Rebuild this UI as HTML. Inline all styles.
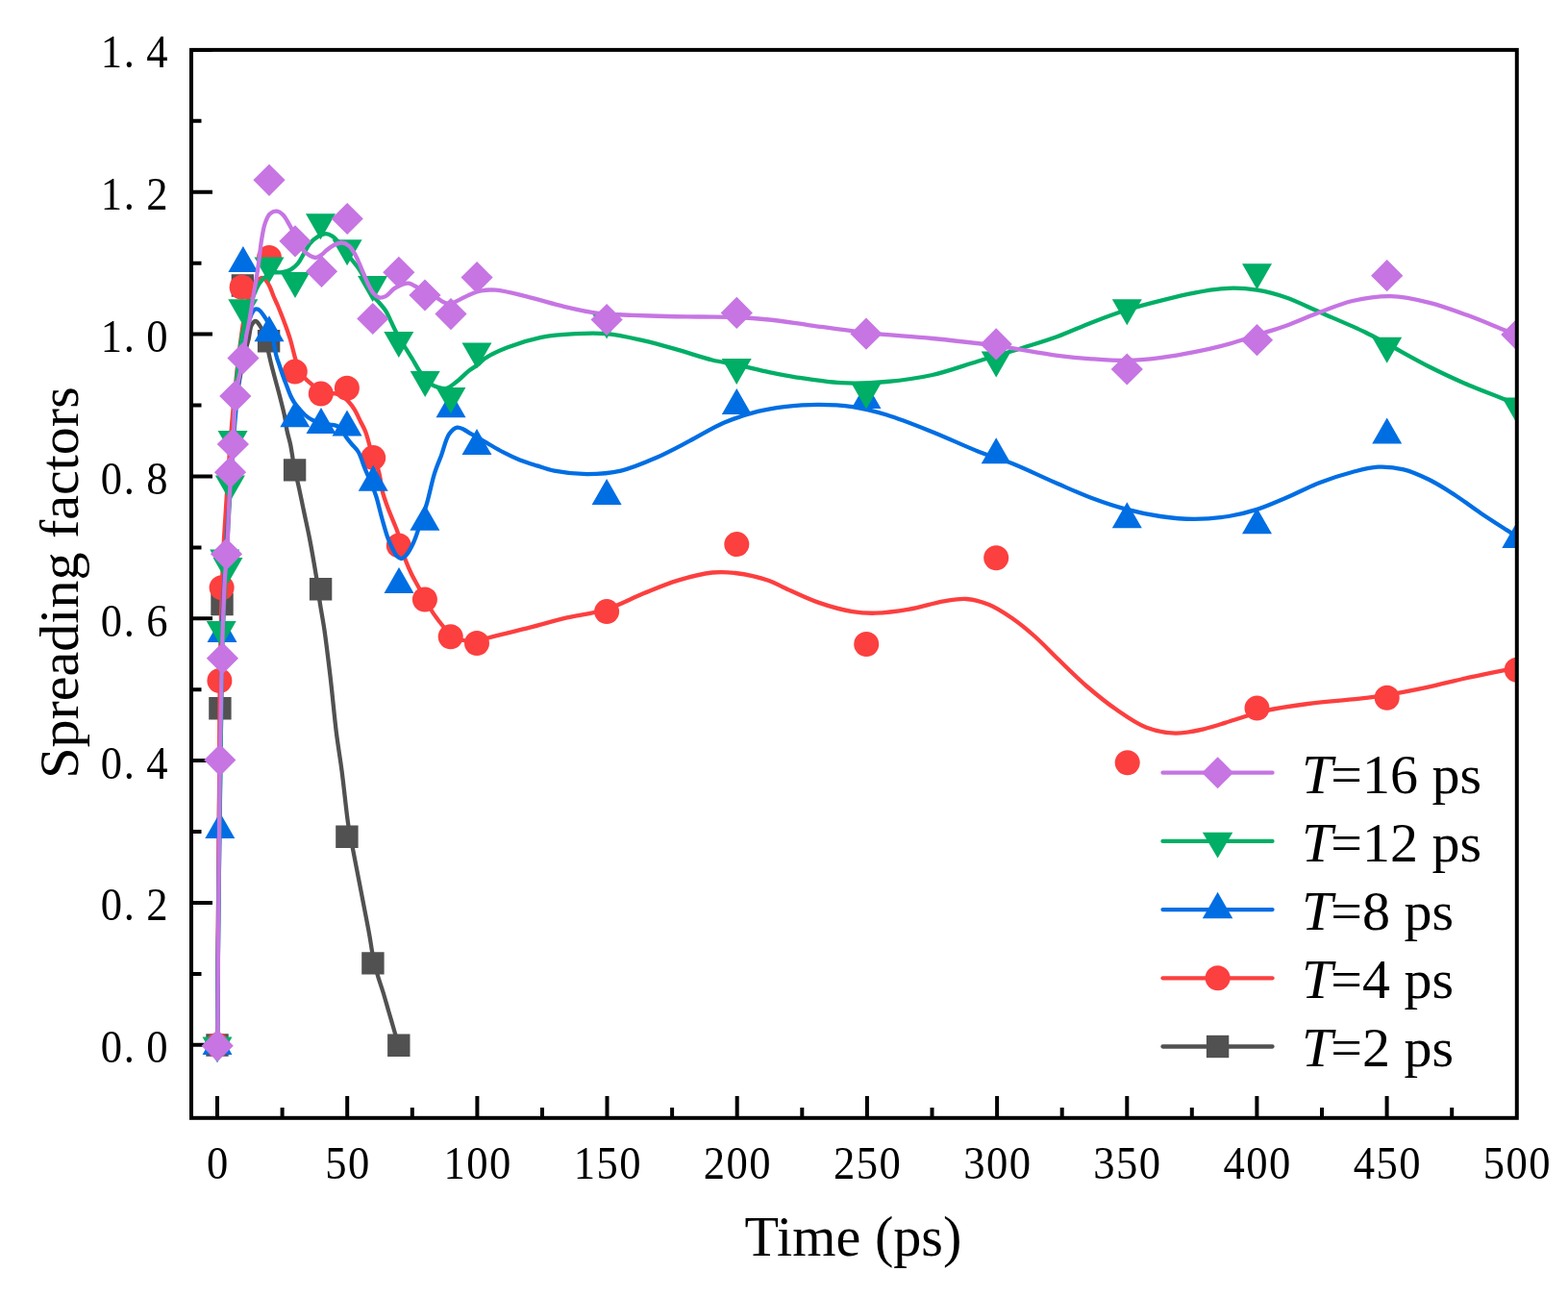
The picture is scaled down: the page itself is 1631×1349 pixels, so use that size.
<!DOCTYPE html><html><head><meta charset="utf-8"><title>Spreading factors</title>
<style>html,body{margin:0;padding:0;background:#fff;}body{width:1631px;height:1349px;overflow:hidden;}svg{display:block;}text{font-family:"Liberation Serif",serif;fill:#000;}</style></head><body>
<svg width="1631" height="1349" viewBox="0 0 1631 1349">
<rect width="1631" height="1349" fill="#fff"/>
<defs><clipPath id="pa"><rect x="199.0" y="51.9" width="1378.8" height="1110.9"/></clipPath></defs>
<path d="M199.0,1086.8h22.0M199.0,1012.9h10.5M199.0,939.0h22.0M199.0,865.0h10.5M199.0,791.1h22.0M199.0,717.2h10.5M199.0,643.3h22.0M199.0,569.4h10.5M199.0,495.4h22.0M199.0,421.5h10.5M199.0,347.6h22.0M199.0,273.7h10.5M199.0,199.8h22.0M199.0,125.8h10.5M199.0,51.9h22.0M226.0,1162.8v-22.8M293.6,1162.8v-10.8M361.2,1162.8v-22.8M428.8,1162.8v-10.8M496.4,1162.8v-22.8M564.0,1162.8v-10.8M631.5,1162.8v-22.8M699.1,1162.8v-10.8M766.7,1162.8v-22.8M834.3,1162.8v-10.8M901.9,1162.8v-22.8M969.5,1162.8v-10.8M1037.1,1162.8v-22.8M1104.7,1162.8v-10.8M1172.3,1162.8v-22.8M1239.8,1162.8v-10.8M1307.4,1162.8v-22.8M1375.0,1162.8v-10.8M1442.6,1162.8v-22.8M1510.2,1162.8v-10.8" stroke="#000" stroke-width="4" fill="none"/>
<g clip-path="url(#pa)" stroke-linejoin="round" stroke-linecap="round">
<path d="M226.0,1087.0 C226.3,1041.3 226.6,995.1 227.0,950.0 C227.4,906.1 227.8,858.5 228.2,820.0 C228.5,789.2 228.6,762.1 229.0,737.0 C229.3,716.2 229.9,698.5 230.2,680.0 C230.5,662.5 230.5,646.6 231.0,629.0 C231.6,610.0 232.5,589.7 233.5,570.0 C234.5,550.1 235.7,529.1 237.0,510.0 C238.2,492.6 239.5,476.2 241.0,460.0 C242.5,444.6 244.1,428.5 246.0,415.0 C247.5,404.0 249.3,393.8 251.0,385.0 C252.3,377.9 253.6,371.8 255.0,366.0 C256.2,361.2 257.5,357.2 258.6,352.7 C259.7,348.0 259.9,341.4 261.7,338.2 C262.8,336.2 264.5,334.0 265.9,334.0 C267.3,334.0 268.8,336.6 270.0,338.2 C271.3,340.0 272.2,342.2 273.2,344.4 C274.2,346.8 275.2,349.3 276.0,352.0 C276.9,355.1 277.4,358.3 278.3,362.0 C279.4,366.7 280.7,372.8 281.9,377.8 C283.0,382.5 284.2,386.7 285.4,391.2 C286.6,395.6 287.8,400.0 289.0,404.5 C290.2,409.0 291.3,413.4 292.5,418.0 C293.7,422.9 295.1,428.0 296.1,433.0 C297.1,437.9 297.5,442.9 298.5,447.8 C299.5,452.8 301.2,457.9 302.2,462.7 C303.1,467.2 303.7,471.5 304.4,475.9 C305.1,480.3 305.7,484.6 306.6,489.0 C307.5,493.6 308.8,497.6 310.0,503.0 C311.7,510.5 313.8,520.8 315.7,530.0 C317.7,539.7 319.9,549.2 322.0,560.0 C324.4,572.4 327.5,590.6 329.1,600.3 C330.0,605.7 330.4,608.7 331.0,613.0 C331.6,617.4 331.9,621.1 332.7,626.4 C333.8,634.1 335.8,644.2 337.4,654.9 C339.4,668.7 341.4,685.6 343.4,702.3 C345.6,720.9 347.6,743.5 349.8,761.5 C351.7,776.6 353.8,788.2 355.7,803.0 C357.9,820.0 360.5,846.3 362.3,858.0 C363.1,863.5 363.8,866.1 364.5,870.0 C365.2,873.8 365.8,876.6 366.7,881.3 C368.2,889.3 370.8,902.7 372.9,913.4 C375.0,924.1 377.1,935.0 379.1,945.4 C381.0,955.1 383.1,965.7 384.5,973.8 C385.6,979.9 386.2,984.9 387.1,989.8 C387.9,994.0 388.8,997.6 389.7,1001.5 C390.6,1005.4 391.3,1008.9 392.5,1013.3 C394.0,1018.8 396.6,1025.6 398.5,1032.0 C400.5,1038.5 402.3,1045.1 404.3,1052.0 C406.5,1059.4 409.1,1068.6 411.0,1075.0 C412.4,1079.6 413.4,1083.0 414.6,1087.0" fill="none" stroke="#515151" stroke-width="4.3"/>
<path d="M214.3,1075.3h23.4v23.4h-23.4ZM217.2,725.1h23.4v23.4h-23.4ZM219.3,616.8h23.4v23.4h-23.4ZM240.7,285.3h23.4v23.4h-23.4ZM267.9,343.1h23.4v23.4h-23.4ZM294.9,477.2h23.4v23.4h-23.4ZM321.9,601.0h23.4v23.4h-23.4ZM349.2,858.5h23.4v23.4h-23.4ZM376.2,990.2h23.4v23.4h-23.4ZM403.1,1075.5h23.4v23.4h-23.4Z" fill="#515151"/>
<path d="M226.0,1087.0 C226.3,1041.3 226.6,996.7 227.0,950.0 C227.4,901.1 227.9,843.9 228.2,800.0 C228.4,765.6 228.3,733.7 228.6,708.0 C228.8,689.4 229.2,676.1 229.6,660.0 C230.0,643.8 230.3,626.6 230.8,611.0 C231.3,596.7 231.9,582.6 232.5,570.0 C233.0,559.2 233.6,550.7 234.3,540.0 C235.1,527.6 235.9,513.7 236.8,500.0 C237.8,485.4 238.8,470.0 240.0,455.0 C241.2,440.0 242.5,425.0 244.0,410.0 C245.5,395.0 247.2,379.0 249.0,365.0 C250.6,352.6 252.1,340.3 254.0,330.0 C255.5,321.8 257.0,314.2 259.0,308.0 C260.5,303.3 262.0,299.1 264.0,296.0 C265.5,293.7 267.3,291.7 269.0,290.5 C270.4,289.6 271.9,288.8 273.2,289.0 C274.7,289.3 276.1,291.0 277.3,292.5 C278.7,294.2 279.9,296.6 281.0,299.0 C282.3,301.7 283.2,304.9 284.5,308.0 C285.9,311.3 287.5,314.6 289.0,318.0 C290.5,321.6 291.9,325.2 293.4,329.0 C294.9,332.9 296.4,336.8 297.9,341.0 C299.5,345.5 301.1,350.1 302.5,355.0 C304.0,360.3 305.4,366.7 306.8,371.6 C307.9,375.5 308.7,378.8 310.0,382.0 C311.3,385.0 312.6,387.9 314.5,390.5 C316.4,393.1 319.3,395.4 321.5,397.4 C323.4,399.1 325.0,400.5 327.0,402.0 C329.2,403.7 331.6,405.9 334.0,407.0 C336.2,408.0 338.6,408.4 341.0,408.8 C343.6,409.2 346.5,408.7 349.0,409.3 C351.5,409.8 353.8,410.7 356.0,412.0 C358.5,413.5 360.9,415.9 363.0,418.2 C365.2,420.6 367.1,423.2 369.0,426.3 C371.1,429.8 373.0,434.4 374.9,438.2 C376.7,441.8 378.4,444.4 380.0,448.6 C382.3,454.4 384.1,463.0 386.4,470.0 C388.7,476.8 392.0,483.2 393.9,490.1 C395.9,497.1 396.3,505.3 398.0,511.9 C399.5,517.6 401.3,522.3 403.2,527.5 C405.1,532.7 407.6,538.4 409.5,543.1 C411.0,546.9 412.4,549.7 413.6,553.5 C415.0,557.9 415.7,563.3 417.0,568.0 C418.3,572.7 419.8,577.0 421.5,581.7 C423.4,586.7 425.6,592.0 428.0,597.0 C430.4,601.9 433.3,606.7 435.7,611.3 C437.9,615.5 439.5,619.3 441.9,623.5 C444.6,628.3 447.8,633.6 451.2,638.6 C454.8,643.8 459.7,650.0 463.0,654.0 C465.2,656.7 466.1,658.7 468.7,660.5 C472.0,662.9 477.4,664.9 482.0,666.0 C486.5,667.1 491.5,667.5 496.0,667.0 C500.3,666.5 503.1,664.8 508.5,663.3 C518.5,660.6 537.6,656.2 551.2,652.7 C563.6,649.5 574.2,646.2 586.7,643.2 C600.6,639.8 617.0,638.2 631.1,633.7 C644.7,629.4 657.1,622.2 669.8,617.1 C681.8,612.2 693.3,607.2 705.3,603.6 C717.0,600.1 730.2,596.6 740.9,595.5 C749.5,594.6 756.0,594.9 764.6,596.0 C775.3,597.3 790.7,600.8 800.0,604.0 C806.4,606.2 809.3,608.4 815.6,611.2 C825.0,615.4 839.2,622.4 851.2,626.6 C862.9,630.7 876.0,634.3 886.7,636.1 C895.3,637.5 901.8,637.9 910.5,637.7 C921.2,637.5 934.2,635.7 946.0,633.7 C957.9,631.6 970.9,627.2 981.6,625.4 C990.3,624.0 997.5,622.4 1005.3,623.0 C1013.3,623.6 1021.3,625.8 1029.0,629.0 C1037.2,632.4 1045.1,637.7 1052.8,643.0 C1060.9,648.6 1068.8,655.2 1076.5,662.0 C1084.5,669.1 1091.6,676.9 1100.0,685.0 C1109.5,694.1 1120.3,705.0 1130.7,714.0 C1140.7,722.6 1150.9,730.9 1161.3,738.1 C1171.3,745.0 1181.4,752.4 1192.0,756.5 C1201.9,760.3 1212.4,762.4 1222.6,762.6 C1232.8,762.8 1243.2,760.3 1253.3,758.0 C1263.6,755.7 1273.7,751.9 1283.9,748.8 C1294.1,745.7 1303.2,742.2 1314.6,739.6 C1328.3,736.4 1345.2,734.0 1360.6,732.0 C1375.9,730.0 1392.2,729.0 1406.6,727.4 C1419.4,725.9 1430.4,724.8 1442.7,722.8 C1455.8,720.7 1469.3,718.0 1483.2,715.1 C1498.1,712.0 1513.6,707.8 1529.2,704.4 C1545.2,700.9 1567.0,696.7 1577.8,694.5 C1583.2,693.4 1585.9,692.8 1590.0,692.0" fill="none" stroke="#FC3F3F" stroke-width="4.3"/>
<g fill="#FC3F3F"><circle cx="226.0" cy="1087.0" r="13.0"/><circle cx="228.4" cy="708.0" r="13.0"/><circle cx="230.6" cy="611.2" r="13.0"/><circle cx="251.6" cy="298.7" r="13.0"/><circle cx="280.0" cy="268.0" r="13.0"/><circle cx="306.8" cy="386.6" r="13.0"/><circle cx="333.8" cy="409.6" r="13.0"/><circle cx="360.9" cy="403.7" r="13.0"/><circle cx="388.2" cy="476.1" r="13.0"/><circle cx="414.8" cy="567.4" r="13.0"/><circle cx="441.9" cy="623.5" r="13.0"/><circle cx="468.7" cy="662.3" r="13.0"/><circle cx="496.0" cy="669.0" r="13.0"/><circle cx="631.1" cy="636.1" r="13.0"/><circle cx="766.3" cy="566.1" r="13.0"/><circle cx="901.2" cy="670.0" r="13.0"/><circle cx="1036.2" cy="580.3" r="13.0"/><circle cx="1172.7" cy="793.3" r="13.0"/><circle cx="1307.5" cy="736.6" r="13.0"/><circle cx="1442.7" cy="725.8" r="13.0"/><circle cx="1577.8" cy="696.7" r="13.0"/></g>
<path d="M226.0,1087.0 C226.4,1041.3 226.8,990.9 227.3,950.0 C227.7,916.9 228.1,891.5 228.5,860.0 C229.0,825.2 229.6,785.3 230.0,750.0 C230.4,717.2 230.2,682.4 231.0,655.0 C231.6,634.2 232.6,617.9 233.5,600.0 C234.4,582.9 235.4,566.7 236.5,550.0 C237.6,533.3 238.8,516.7 240.0,500.0 C241.2,483.3 242.3,465.7 243.5,450.0 C244.6,435.9 245.7,422.9 247.0,410.0 C248.2,397.9 249.5,385.7 251.0,375.0 C252.2,366.0 253.5,357.1 255.0,350.0 C256.1,344.6 257.2,340.2 258.5,336.0 C259.6,332.4 260.6,328.6 262.0,326.0 C263.0,324.1 264.2,322.0 265.5,321.5 C266.6,321.1 267.8,321.4 269.0,322.0 C270.7,323.0 272.6,325.7 274.2,328.0 C276.1,330.6 277.9,333.6 279.4,337.0 C281.1,340.9 282.3,345.2 283.5,350.0 C285.0,355.9 285.9,364.4 287.4,370.0 C288.5,374.3 289.8,377.3 291.0,381.0 C292.2,384.7 293.5,388.6 294.8,392.2 C296.0,395.6 297.3,398.8 298.5,402.0 C299.7,405.2 300.9,408.6 302.2,411.5 C303.4,414.1 304.7,416.4 306.0,418.5 C307.2,420.3 308.2,421.6 309.7,423.4 C311.7,425.8 314.5,429.2 317.1,431.5 C319.5,433.6 321.9,435.3 324.5,436.7 C326.9,438.0 329.1,438.7 331.9,439.5 C335.2,440.4 339.7,440.9 343.0,441.5 C345.7,442.0 348.3,441.9 350.4,443.0 C352.4,444.0 354.0,445.7 355.5,447.5 C357.2,449.5 358.4,452.2 360.0,454.5 C361.6,456.8 363.3,458.8 365.2,461.2 C367.4,464.0 370.5,466.4 372.7,470.0 C375.4,474.5 377.1,481.5 379.3,486.7 C381.2,491.4 383.1,495.3 385.0,500.0 C387.1,505.1 389.3,510.2 391.2,516.0 C393.4,522.7 394.9,530.7 397.0,538.0 C399.1,545.4 401.4,554.1 403.7,560.3 C405.4,564.9 407.3,568.7 409.0,572.0 C410.3,574.5 411.4,577.0 413.0,578.5 C414.3,579.8 416.0,581.1 417.5,581.0 C419.0,580.9 420.5,579.6 422.0,578.0 C424.5,575.3 427.5,569.9 429.8,565.0 C432.6,559.2 434.7,551.8 437.0,545.0 C439.4,538.0 441.7,531.4 444.0,523.6 C446.7,514.3 449.1,501.7 451.9,492.7 C454.1,485.5 456.5,480.3 459.0,473.7 C461.7,466.5 463.7,456.2 467.3,451.2 C469.7,447.9 472.9,445.1 475.6,444.6 C477.8,444.2 479.8,445.5 482.0,446.5 C484.5,447.6 486.7,449.4 489.8,451.2 C494.3,453.8 500.9,457.5 506.4,460.7 C511.9,463.8 517.3,467.2 523.0,470.1 C528.8,473.1 534.8,476.0 540.8,478.4 C546.7,480.7 552.6,482.5 558.6,484.4 C564.5,486.3 569.4,488.3 576.4,489.7 C585.9,491.6 599.0,493.1 610.5,493.1 C622.2,493.1 634.3,492.3 646.0,489.6 C658.0,486.8 669.9,481.6 681.6,476.5 C693.6,471.3 705.4,464.8 717.2,458.7 C729.1,452.6 740.7,445.0 752.8,439.8 C764.5,434.8 777.2,430.7 788.4,427.9 C798.0,425.5 805.9,424.3 815.6,423.1 C826.6,421.8 839.3,420.8 851.2,420.8 C863.0,420.8 874.9,421.3 886.7,423.1 C898.6,424.9 909.7,427.7 922.3,431.5 C937.1,436.0 954.0,442.9 969.8,449.2 C985.7,455.5 1002.4,463.7 1017.2,469.4 C1029.8,474.3 1040.2,477.0 1052.8,482.0 C1067.5,487.9 1085.3,496.7 1100.0,503.0 C1112.7,508.5 1123.5,513.5 1135.6,518.0 C1147.6,522.5 1160.2,526.7 1172.3,529.9 C1183.9,533.0 1195.1,535.3 1206.7,537.0 C1218.4,538.7 1230.4,539.9 1242.3,539.9 C1254.2,539.9 1266.6,538.8 1277.9,537.0 C1288.3,535.3 1297.7,533.0 1307.5,529.9 C1317.5,526.7 1326.9,522.4 1337.2,518.0 C1348.6,513.2 1361.0,506.6 1372.8,502.0 C1384.1,497.6 1396.0,493.8 1406.7,491.0 C1416.1,488.6 1424.5,486.1 1433.4,485.7 C1442.3,485.3 1451.3,486.2 1460.1,488.3 C1469.2,490.5 1478.1,494.7 1486.8,499.0 C1495.9,503.5 1504.7,509.3 1513.5,515.0 C1522.5,520.8 1531.2,527.7 1540.2,533.7 C1549.1,539.7 1559.9,546.6 1566.9,551.1 C1571.3,553.9 1574.1,555.6 1577.8,558.0 C1581.8,560.6 1585.9,563.3 1590.0,566.0" fill="none" stroke="#006EE3" stroke-width="4.3"/>
<path d="M226.0,1070.1L241.5,1097.1L210.5,1097.1ZM228.8,845.0L244.3,872.0L213.3,872.0ZM231.0,641.0L246.5,668.0L215.5,668.0ZM252.9,256.0L268.4,283.0L237.4,283.0ZM280.0,328.3L295.5,355.3L264.5,355.3ZM306.8,417.2L322.3,444.2L291.3,444.2ZM334.0,424.0L349.5,451.0L318.5,451.0ZM361.0,426.5L376.5,453.5L345.5,453.5ZM388.2,483.8L403.7,510.8L372.7,510.8ZM415.0,590.0L430.5,617.0L399.5,617.0ZM441.9,524.7L457.4,551.7L426.4,551.7ZM469.0,407.2L484.5,434.2L453.5,434.2ZM496.0,446.0L511.5,473.0L480.5,473.0ZM631.1,497.9L646.6,524.9L615.6,524.9ZM766.3,403.9L781.8,430.9L750.8,430.9ZM901.0,398.0L916.5,425.0L885.5,425.0ZM1036.2,455.2L1051.7,482.2L1020.7,482.2ZM1172.3,522.3L1187.8,549.3L1156.8,549.3ZM1307.5,528.3L1323.0,555.3L1292.0,555.3ZM1442.7,434.5L1458.2,461.5L1427.2,461.5ZM1577.8,543.0L1593.3,570.0L1562.3,570.0Z" fill="#006EE3"/>
<path d="M226.0,1087.0 C226.4,1041.3 226.8,992.1 227.3,950.0 C227.7,914.0 228.1,883.3 228.5,850.0 C229.0,816.7 229.5,780.4 230.0,750.0 C230.4,724.6 230.6,701.4 231.2,680.0 C231.7,661.9 232.3,645.7 233.0,630.0 C233.6,615.9 234.3,603.3 235.0,590.0 C235.7,576.7 236.5,563.3 237.2,550.0 C238.0,536.7 238.7,523.3 239.5,510.0 C240.3,496.7 241.2,483.3 242.0,470.0 C242.7,456.7 243.3,443.0 244.0,430.0 C244.7,417.7 245.2,406.2 246.2,394.2 C247.3,382.1 248.7,368.3 250.3,357.9 C251.5,350.0 252.9,343.8 254.5,337.1 C256.0,330.8 257.9,324.6 259.7,319.0 C261.3,314.0 263.0,309.3 264.8,305.0 C266.4,301.2 267.8,297.6 270.0,294.5 C272.0,291.6 274.7,288.9 277.3,287.0 C279.6,285.4 281.9,284.1 284.5,283.5 C287.2,282.8 290.5,283.7 293.4,283.2 C296.4,282.7 299.6,282.0 302.3,280.5 C305.1,279.0 307.6,276.8 309.8,274.2 C312.2,271.3 313.9,267.3 316.0,263.8 C318.1,260.3 319.8,256.4 322.3,253.4 C324.7,250.5 327.7,247.8 330.6,246.1 C333.2,244.5 336.2,243.1 338.9,243.1 C341.4,243.1 343.9,244.5 346.0,245.8 C348.1,247.1 349.7,249.1 351.4,251.1 C353.3,253.3 354.7,255.6 356.7,258.3 C359.3,261.7 362.8,266.2 365.6,269.8 C368.1,273.0 370.6,275.7 372.7,278.7 C374.7,281.6 376.3,284.4 378.0,287.6 C379.9,291.2 381.5,295.6 383.4,299.2 C385.1,302.5 386.7,305.8 388.7,308.5 C390.5,311.0 392.5,312.7 394.5,315.0 C396.7,317.6 399.2,320.2 401.2,323.2 C403.3,326.4 404.7,330.2 406.5,333.9 C408.5,338.0 410.5,342.6 412.7,346.7 C414.9,350.8 417.2,354.4 419.8,358.6 C422.7,363.4 426.4,369.2 429.3,374.0 C431.9,378.2 433.7,382.1 436.4,385.9 C439.2,389.9 442.9,394.8 445.9,397.5 C448.0,399.4 449.4,400.5 451.9,401.5 C455.1,402.8 459.9,404.7 463.7,404.0 C467.8,403.3 471.8,399.4 475.6,396.5 C479.7,393.4 483.5,389.0 487.4,385.9 C491.0,383.1 495.2,380.9 498.1,378.5 C500.3,376.7 501.0,375.2 503.7,373.3 C508.7,369.8 518.5,365.0 527.4,361.5 C537.9,357.3 551.0,353.2 563.0,350.8 C574.8,348.5 587.0,347.8 598.6,347.2 C609.7,346.6 619.8,346.2 631.1,347.2 C643.5,348.3 657.2,351.6 669.8,354.4 C681.9,357.2 693.5,360.6 705.3,363.9 C717.2,367.3 730.0,371.8 740.9,374.5 C750.0,376.7 757.3,377.4 766.3,379.3 C776.8,381.5 789.3,384.9 800.0,387.1 C809.6,389.1 817.0,390.7 827.4,392.3 C841.0,394.4 859.0,397.4 874.9,398.2 C890.7,399.0 906.5,398.4 922.3,397.0 C938.2,395.6 954.1,393.5 969.8,390.0 C985.7,386.4 1001.4,380.5 1017.2,375.7 C1033.0,371.0 1050.0,366.1 1064.6,361.5 C1077.3,357.5 1088.3,354.3 1100.0,350.0 C1111.9,345.6 1123.6,340.0 1135.6,335.4 C1147.7,330.8 1160.2,326.1 1172.3,322.3 C1183.9,318.7 1195.1,315.8 1206.7,312.9 C1218.4,309.9 1230.4,306.8 1242.3,304.6 C1254.1,302.4 1266.6,300.2 1277.9,299.8 C1288.2,299.4 1297.7,300.1 1307.5,301.7 C1317.5,303.3 1327.0,305.8 1337.2,309.3 C1348.7,313.2 1360.1,319.2 1372.8,324.7 C1387.4,331.1 1407.2,339.3 1420.0,345.5 C1429.0,349.9 1433.9,352.8 1442.7,357.5 C1455.0,364.1 1472.3,374.2 1486.8,381.5 C1500.4,388.4 1513.5,394.4 1526.9,400.2 C1540.2,405.9 1557.8,412.1 1566.9,416.2 C1571.7,418.4 1574.0,419.8 1577.8,421.6 C1581.7,423.4 1585.9,425.2 1590.0,427.0" fill="none" stroke="#00AE66" stroke-width="4.3"/>
<path d="M210.5,1078.5L241.5,1078.5L226.0,1105.5ZM214.7,646.1L245.7,646.1L230.2,673.1ZM218.2,571.6L249.2,571.6L233.7,598.6ZM221.5,580.0L252.5,580.0L237.0,607.0ZM223.9,494.5L254.9,494.5L239.4,521.5ZM226.6,448.0L257.6,448.0L242.1,475.0ZM237.3,311.2L268.3,311.2L252.8,338.2ZM264.5,267.4L295.5,267.4L280.0,294.4ZM291.5,283.0L322.5,283.0L307.0,310.0ZM318.0,222.3L349.0,222.3L333.5,249.3ZM345.6,249.3L376.6,249.3L361.1,276.3ZM372.1,287.0L403.1,287.0L387.6,314.0ZM399.3,345.0L430.3,345.0L414.8,372.0ZM426.7,385.9L457.7,385.9L442.2,412.9ZM453.4,403.1L484.4,403.1L468.9,430.1ZM480.5,356.4L511.5,356.4L496.0,383.4ZM615.6,325.5L646.6,325.5L631.1,352.5ZM750.7,372.9L781.7,372.9L766.2,399.9ZM885.5,398.4L916.5,398.4L901.0,425.4ZM1020.7,365.5L1051.7,365.5L1036.2,392.5ZM1156.8,311.2L1187.8,311.2L1172.3,338.2ZM1292.0,274.2L1323.0,274.2L1307.5,301.2ZM1427.2,350.8L1458.2,350.8L1442.7,377.8ZM1562.3,413.6L1593.3,413.6L1577.8,440.6Z" fill="#00AE66"/>
<path d="M226.2,1087.7 C226.7,1025.1 227.2,954.3 227.7,900.0 C228.1,858.5 228.3,824.8 228.8,790.0 C229.3,758.5 229.9,727.0 230.5,700.0 C231.0,678.0 231.5,658.0 232.2,640.0 C232.7,625.3 233.3,611.6 234.0,600.0 C234.6,591.0 235.4,584.5 236.0,576.0 C236.6,566.3 237.1,554.8 237.5,545.0 C237.9,536.2 238.0,528.7 238.5,520.0 C239.0,510.5 239.8,499.8 240.5,490.0 C241.2,480.5 242.0,471.6 242.5,462.0 C243.1,451.7 243.4,439.1 243.8,430.0 C244.1,423.1 244.0,418.1 244.8,412.0 C245.6,405.7 247.2,399.5 248.5,393.0 C249.9,386.3 251.8,379.4 253.0,372.4 C254.3,365.1 254.8,357.0 256.0,350.0 C257.1,343.6 258.5,338.5 259.7,331.9 C261.1,324.1 262.5,313.8 263.8,306.0 C264.9,299.5 266.0,294.3 266.9,288.3 C267.9,282.3 268.7,276.2 269.5,270.0 C270.4,263.5 270.9,256.4 272.0,250.0 C273.0,244.0 273.9,237.5 275.6,232.6 C277.0,228.6 278.4,224.4 280.8,222.3 C282.8,220.6 285.7,219.5 288.0,219.7 C290.2,219.9 292.3,221.4 294.2,223.3 C296.9,225.9 299.3,231.0 301.5,234.7 C303.5,238.2 305.1,241.3 307.0,245.0 C309.2,249.2 311.2,255.0 314.0,258.6 C316.4,261.7 319.6,264.3 322.3,265.9 C324.4,267.1 326.5,268.2 328.5,268.0 C330.6,267.8 332.8,266.1 334.7,264.8 C336.6,263.5 338.0,261.6 340.0,260.0 C342.3,258.2 345.1,256.0 347.8,254.7 C350.4,253.5 353.2,252.3 355.8,252.5 C358.3,252.7 360.9,254.0 362.9,255.6 C365.1,257.3 366.7,260.1 368.3,262.7 C370.0,265.4 371.2,268.4 372.7,271.6 C374.4,275.4 376.2,279.9 378.0,284.1 C379.8,288.2 381.5,292.8 383.4,296.5 C385.1,299.8 386.7,303.2 388.7,305.4 C390.3,307.2 392.1,308.9 394.1,309.4 C396.2,309.9 398.9,309.2 401.2,308.1 C404.2,306.6 407.0,302.2 410.1,300.1 C412.9,298.2 416.2,296.5 419.0,295.6 C421.2,294.9 423.1,294.4 425.2,294.7 C427.4,295.0 429.4,296.3 431.7,297.5 C434.6,298.9 437.8,301.1 441.2,302.9 C444.9,304.9 449.5,306.8 453.0,308.8 C456.1,310.6 458.5,313.0 461.3,314.2 C463.7,315.2 466.0,316.1 468.4,315.9 C471.1,315.7 473.7,313.8 476.7,312.4 C480.3,310.7 484.6,308.1 488.6,306.4 C492.5,304.8 496.2,303.3 500.5,302.5 C505.2,301.6 509.5,301.2 515.6,301.7 C525.0,302.4 539.4,306.5 551.2,309.3 C563.1,312.2 574.8,316.0 586.7,318.8 C598.5,321.6 610.4,324.4 622.3,325.9 C634.1,327.4 646.0,327.3 657.9,327.8 C669.8,328.3 681.6,328.7 693.5,329.0 C705.3,329.3 717.0,329.3 729.0,329.5 C741.3,329.7 754.2,329.5 766.3,330.0 C777.8,330.5 788.4,331.3 800.0,332.5 C812.6,333.8 824.7,335.8 839.3,337.8 C857.6,340.3 879.8,343.8 901.0,346.1 C923.3,348.6 947.1,349.7 969.8,352.0 C992.1,354.2 1014.3,356.6 1036.2,359.6 C1057.7,362.5 1081.8,367.5 1100.0,369.8 C1113.6,371.5 1123.6,372.4 1135.6,373.3 C1147.7,374.2 1160.3,375.2 1172.3,375.0 C1184.0,374.8 1195.2,373.6 1206.7,372.2 C1218.5,370.7 1230.5,368.6 1242.3,366.2 C1254.2,363.8 1266.6,361.0 1277.9,357.9 C1288.3,355.0 1297.6,351.6 1307.5,348.4 C1317.4,345.2 1326.9,342.6 1337.2,338.9 C1348.6,334.8 1361.0,329.1 1372.8,324.7 C1384.2,320.5 1394.8,315.8 1406.7,313.0 C1419.4,310.1 1433.5,307.8 1446.8,308.1 C1460.2,308.4 1473.6,311.5 1486.8,314.8 C1500.3,318.1 1513.6,323.2 1526.9,328.1 C1540.3,333.0 1557.7,340.6 1566.9,344.1 C1571.7,345.9 1574.1,346.7 1577.8,348.1 C1581.8,349.6 1585.9,351.4 1590.0,353.0" fill="none" stroke="#C675E3" stroke-width="4.3"/>
<path d="M226.2,1071.1L242.8,1087.7L226.2,1104.3L209.6,1087.7ZM228.8,774.0L245.4,790.6L228.8,807.2L212.2,790.6ZM231.4,668.1L248.0,684.7L231.4,701.3L214.8,684.7ZM235.5,559.7L252.1,576.3L235.5,592.9L218.9,576.3ZM239.5,474.6L256.1,491.2L239.5,507.8L222.9,491.2ZM242.4,445.4L259.0,462.0L242.4,478.6L225.8,462.0ZM244.8,395.4L261.4,412.0L244.8,428.6L228.2,412.0ZM253.0,355.8L269.6,372.4L253.0,389.0L236.4,372.4ZM280.0,170.7L296.6,187.3L280.0,203.9L263.4,187.3ZM307.0,234.2L323.6,250.8L307.0,267.4L290.4,250.8ZM334.5,265.7L351.1,282.3L334.5,298.9L317.9,282.3ZM361.2,210.9L377.8,227.5L361.2,244.1L344.6,227.5ZM387.8,314.9L404.4,331.5L387.8,348.1L371.2,331.5ZM414.8,266.7L431.4,283.3L414.8,299.9L398.2,283.3ZM442.0,290.4L458.6,307.0L442.0,323.6L425.4,307.0ZM469.0,310.0L485.6,326.6L469.0,343.2L452.4,326.6ZM496.1,272.0L512.7,288.6L496.1,305.2L479.5,288.6ZM631.1,315.9L647.7,332.5L631.1,349.1L614.5,332.5ZM766.3,308.8L782.9,325.4L766.3,342.0L749.7,325.4ZM901.0,330.6L917.6,347.2L901.0,363.8L884.4,347.2ZM1036.2,341.3L1052.8,357.9L1036.2,374.5L1019.6,357.9ZM1172.3,367.4L1188.9,384.0L1172.3,400.6L1155.7,384.0ZM1307.5,337.1L1324.1,353.7L1307.5,370.3L1290.9,353.7ZM1442.7,270.1L1459.3,286.7L1442.7,303.3L1426.1,286.7ZM1577.8,331.5L1594.4,348.1L1577.8,364.7L1561.2,348.1Z" fill="#C675E3"/>
</g>
<rect x="199.0" y="51.9" width="1378.8" height="1110.9" fill="none" stroke="#000" stroke-width="4" stroke-linejoin="miter"/>
<text font-size="49" transform="translate(0,1105.2) scale(0.91,1)" x="127.3 147.5 179.5" text-anchor="middle">0.0</text>
<text font-size="49" transform="translate(0,957.4) scale(0.91,1)" x="127.3 147.5 179.5" text-anchor="middle">0.2</text>
<text font-size="49" transform="translate(0,809.5) scale(0.91,1)" x="127.3 147.5 179.5" text-anchor="middle">0.4</text>
<text font-size="49" transform="translate(0,661.7) scale(0.91,1)" x="127.3 147.5 179.5" text-anchor="middle">0.6</text>
<text font-size="49" transform="translate(0,513.8) scale(0.91,1)" x="127.3 147.5 179.5" text-anchor="middle">0.8</text>
<text font-size="49" transform="translate(0,366.0) scale(0.91,1)" x="127.3 147.5 179.5" text-anchor="middle">1.0</text>
<text font-size="49" transform="translate(0,218.2) scale(0.91,1)" x="127.3 147.5 179.5" text-anchor="middle">1.2</text>
<text font-size="49" transform="translate(0,70.3) scale(0.91,1)" x="127.3 147.5 179.5" text-anchor="middle">1.4</text>
<text font-size="49" transform="translate(0,1226.2) scale(0.91,1)" x="248.4" text-anchor="middle">0</text>
<text font-size="49" transform="translate(0,1226.2) scale(0.91,1)" x="383.9 410.0" text-anchor="middle">50</text>
<text font-size="49" transform="translate(0,1226.2) scale(0.91,1)" x="519.4 545.5 571.5" text-anchor="middle">100</text>
<text font-size="49" transform="translate(0,1226.2) scale(0.91,1)" x="667.9 694.0 720.1" text-anchor="middle">150</text>
<text font-size="49" transform="translate(0,1226.2) scale(0.91,1)" x="816.5 842.5 868.6" text-anchor="middle">200</text>
<text font-size="49" transform="translate(0,1226.2) scale(0.91,1)" x="965.0 991.1 1017.2" text-anchor="middle">250</text>
<text font-size="49" transform="translate(0,1226.2) scale(0.91,1)" x="1113.5 1139.6 1165.7" text-anchor="middle">300</text>
<text font-size="49" transform="translate(0,1226.2) scale(0.91,1)" x="1262.1 1288.2 1314.3" text-anchor="middle">350</text>
<text font-size="49" transform="translate(0,1226.2) scale(0.91,1)" x="1410.6 1436.7 1462.8" text-anchor="middle">400</text>
<text font-size="49" transform="translate(0,1226.2) scale(0.91,1)" x="1559.2 1585.3 1611.4" text-anchor="middle">450</text>
<text font-size="49" transform="translate(0,1226.2) scale(0.91,1)" x="1707.7 1733.8 1759.9" text-anchor="middle">500</text>
<text font-size="58.2" x="887.5" y="1306" text-anchor="middle">Time (ps)</text>
<text font-size="58" transform="translate(80.5,606) rotate(-90)" text-anchor="middle">Spreading factors</text>
<path d="M1209.5,803.7H1323.5" stroke="#C675E3" stroke-width="4.3" stroke-linecap="round"/>
<path d="M1266.6,787.2L1283.1,803.7L1266.6,820.2L1250.1,803.7Z" fill="#C675E3"/>
<text font-size="58" x="1354" y="824.5"><tspan font-style="italic">T</tspan><tspan dx="-2">=</tspan>16 ps</text>
<path d="M1209.5,874.9H1323.5" stroke="#00AE66" stroke-width="4.3" stroke-linecap="round"/>
<path d="M1250.8,865.8L1282.3,865.8L1266.6,892.5Z" fill="#00AE66"/>
<text font-size="58" x="1354" y="895.7"><tspan font-style="italic">T</tspan><tspan dx="-2">=</tspan>12 ps</text>
<path d="M1209.5,946.1H1323.5" stroke="#006EE3" stroke-width="4.3" stroke-linecap="round"/>
<path d="M1266.6,927.8L1282.3,955.3L1250.8,955.3Z" fill="#006EE3"/>
<text font-size="58" x="1354" y="966.9"><tspan font-style="italic">T</tspan><tspan dx="-2">=</tspan>8 ps</text>
<path d="M1209.5,1017.3H1323.5" stroke="#FC3F3F" stroke-width="4.3" stroke-linecap="round"/>
<circle cx="1266.6" cy="1017.3" r="13.0" fill="#FC3F3F"/>
<text font-size="58" x="1354" y="1038.1"><tspan font-style="italic">T</tspan><tspan dx="-2">=</tspan>4 ps</text>
<path d="M1209.5,1088.5H1323.5" stroke="#515151" stroke-width="4.3" stroke-linecap="round"/>
<path d="M1254.9,1076.8h23.4v23.4h-23.4Z" fill="#515151"/>
<text font-size="58" x="1354" y="1109.3"><tspan font-style="italic">T</tspan><tspan dx="-2">=</tspan>2 ps</text>
</svg></body></html>
